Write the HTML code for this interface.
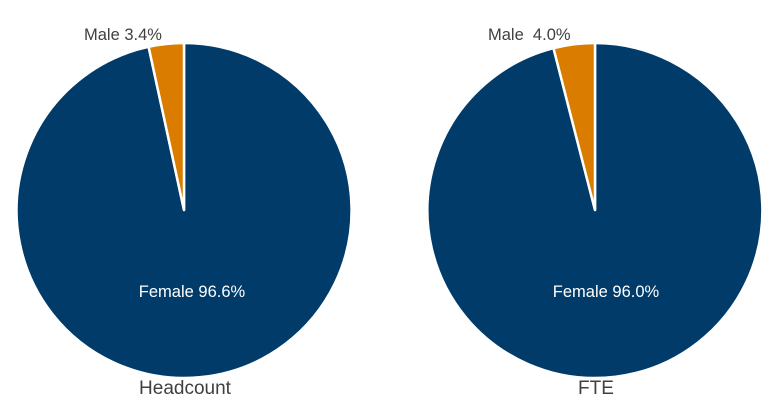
<!DOCTYPE html>
<html><head><style>body{margin:0;background:#fff}svg{display:block}</style></head><body>
<svg width="781" height="415" xmlns="http://www.w3.org/2000/svg" font-family="Liberation Sans, Arial, sans-serif">
<rect width="781" height="415" fill="#fff"/>
<g stroke="#fff" stroke-width="2.5" stroke-linejoin="round">
<path d="M184,210 L184,43 A167.5,167.5 0 1 1 148.6,46.8 Z" fill="#003B69"/>
<path d="M184,210 L148.6,46.8 A167.5,167.5 0 0 1 184,43 Z" fill="#D97C00"/>
<path d="M595,210 L595,43 A167.5,167.5 0 1 1 553.5,48.2 Z" fill="#003B69"/>
<path d="M595,210 L553.5,48.2 A167.5,167.5 0 0 1 595,43 Z" fill="#D97C00"/>
</g>
<g font-size="16.5" fill="#404040">
<text x="84" y="40">Male 3.4%</text>
<text x="488" y="40" xml:space="preserve">Male  4.0%</text>
</g>
<g font-size="16.5" fill="#fff" text-anchor="middle">
<text x="192" y="297">Female 96.6%</text>
<text x="606" y="297">Female 96.0%</text>
</g>
<g font-size="19" fill="#404040" text-anchor="middle">
<text x="185" y="394">Headcount</text>
<text x="596" y="394">FTE</text>
</g>
</svg>
</body></html>
